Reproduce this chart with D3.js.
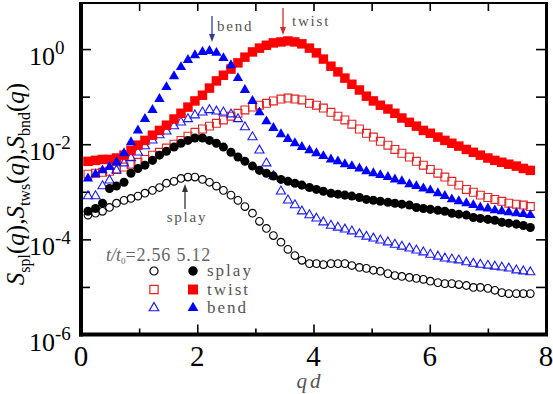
<!DOCTYPE html>
<html>
<head>
<meta charset="utf-8">
<script src="https://cdn.jsdelivr.net/npm/d3@7"></script>
<style>
  body { margin: 0; background: #fff; }
  svg { display: block; }
</style>
</head>
<body>
<script>
var width = 553,
    height = 394;

// wavenumber qd, same grid for every series
var qd = [0.12,0.25,0.37,0.49,0.61,0.74,0.86,0.98,1.10,1.23,1.35,1.47,1.60,1.72,1.84,1.96,
  2.09,2.21,2.33,2.45,2.58,2.70,2.82,2.95,3.07,3.19,3.31,3.44,3.56,3.68,3.80,3.93,
  4.05,4.17,4.30,4.42,4.54,4.66,4.79,4.91,5.03,5.15,5.28,5.40,5.52,5.65,5.77,5.89,
  6.01,6.14,6.26,6.38,6.50,6.63,6.75,6.87,7.00,7.12,7.24,7.36,7.49,7.61,7.73];

// log10 of S(q)
var splay256 = [-3.49,-3.45,-3.41,-3.33,-3.24,-3.18,-3.14,-3.09,-3.03,-2.97,-2.91,-2.82,-2.78,-2.72,-2.69,-2.69,
  -2.74,-2.80,-2.88,-2.97,-3.07,-3.18,-3.31,-3.45,-3.62,-3.77,-3.92,-4.06,-4.21,-4.34,-4.44,-4.51,
  -4.51,-4.53,-4.51,-4.51,-4.51,-4.55,-4.59,-4.61,-4.65,-4.67,-4.72,-4.76,-4.78,-4.80,-4.82,-4.84,
  -4.88,-4.91,-4.93,-4.93,-4.95,-4.97,-5.01,-5.01,-5.03,-5.07,-5.12,-5.14,-5.14,-5.14,-5.14];
var splay512 = [-3.41,-3.35,-3.24,-2.93,-2.88,-2.80,-2.61,-2.51,-2.44,-2.34,-2.23,-2.15,-2.06,-1.98,-1.92,-1.87,
  -1.87,-1.92,-1.98,-2.06,-2.17,-2.27,-2.36,-2.46,-2.55,-2.61,-2.67,-2.74,-2.78,-2.82,-2.86,-2.91,
  -2.95,-2.99,-3.03,-3.05,-3.07,-3.09,-3.12,-3.16,-3.18,-3.20,-3.22,-3.24,-3.26,-3.28,-3.33,-3.35,
  -3.37,-3.39,-3.41,-3.45,-3.47,-3.49,-3.54,-3.56,-3.58,-3.60,-3.64,-3.66,-3.68,-3.71,-3.75];
var twist256 = [-2.63,-2.61,-2.59,-2.57,-2.53,-2.48,-2.42,-2.38,-2.32,-2.23,-2.17,-2.08,-2.00,-1.92,-1.83,-1.75,
  -1.68,-1.62,-1.56,-1.49,-1.41,-1.35,-1.28,-1.22,-1.18,-1.14,-1.09,-1.05,-1.03,-1.05,-1.07,-1.14,
  -1.18,-1.24,-1.33,-1.41,-1.49,-1.58,-1.68,-1.77,-1.85,-1.94,-2.02,-2.11,-2.19,-2.27,-2.36,-2.44,
  -2.53,-2.61,-2.69,-2.78,-2.86,-2.95,-3.01,-3.07,-3.12,-3.16,-3.20,-3.24,-3.26,-3.28,-3.31];
var twist512 = [-2.36,-2.34,-2.32,-2.32,-2.29,-2.23,-2.13,-2.02,-1.92,-1.81,-1.71,-1.60,-1.47,-1.35,-1.22,-1.09,
  -0.97,-0.82,-0.67,-0.55,-0.42,-0.29,-0.17,-0.06,0.02,0.08,0.13,0.15,0.17,0.15,0.11,0.02,
  -0.08,-0.21,-0.36,-0.48,-0.61,-0.74,-0.86,-0.99,-1.09,-1.18,-1.26,-1.35,-1.45,-1.54,-1.62,-1.71,
  -1.77,-1.85,-1.92,-1.98,-2.04,-2.11,-2.17,-2.23,-2.29,-2.34,-2.38,-2.42,-2.46,-2.51,-2.55];
var bend256 = [-3.09,-3.09,-2.88,-2.76,-2.55,-2.40,-2.29,-2.17,-2.04,-1.92,-1.81,-1.73,-1.62,-1.54,-1.47,-1.39,
  -1.33,-1.28,-1.31,-1.33,-1.37,-1.47,-1.64,-1.85,-2.13,-2.40,-2.67,-2.99,-3.18,-3.28,-3.41,-3.49,
  -3.56,-3.64,-3.71,-3.75,-3.79,-3.83,-3.89,-3.94,-3.98,-4.02,-4.06,-4.11,-4.15,-4.19,-4.23,-4.27,
  -4.32,-4.36,-4.40,-4.42,-4.44,-4.48,-4.51,-4.53,-4.55,-4.57,-4.59,-4.61,-4.65,-4.67,-4.69];
var bend512 = [-2.72,-2.63,-2.55,-2.48,-2.38,-2.19,-1.96,-1.71,-1.47,-1.28,-1.05,-0.80,-0.57,-0.38,-0.23,-0.13,
  -0.06,-0.04,-0.08,-0.19,-0.34,-0.61,-0.86,-1.09,-1.33,-1.52,-1.66,-1.79,-1.89,-1.98,-2.06,-2.13,
  -2.19,-2.25,-2.32,-2.36,-2.42,-2.46,-2.51,-2.57,-2.61,-2.65,-2.69,-2.74,-2.78,-2.84,-2.88,-2.93,
  -2.97,-3.03,-3.09,-3.16,-3.20,-3.24,-3.28,-3.33,-3.35,-3.39,-3.41,-3.43,-3.45,-3.47,-3.49];

var xTicks = [0, 2, 4, 6, 8],
    xMinor = [1, 3, 5, 7];
var yTicks = [1e-6, 1e-4, 1e-2, 1e0],
    yMinor = [1e-5, 1e-3, 1e-1];
var yExp = ["-6", "-4", "-2", "0"];
var legendNames = ["splay", "twist", "bend"];

var serif = '"Liberation Serif"';

var svg = d3.select("body").append("svg")
    .attr("width", width)
    .attr("height", height);

var x = d3.scaleLinear()
    .domain([0, 8])
    .range([81, 546]);

var y = d3.scaleLog()
    .domain([1e-6, 10])
    .range([334.5, 1.5]);

// ---- ticks (inward, all four sides)
function tickAxis(axis, vals, size, tr) {
  var g = svg.append("g")
      .attr("transform", tr)
      .call(axis.tickValues(vals).tickSize(size).tickFormat(""));
  g.select(".domain").remove();
  g.selectAll(".tick line").attr("stroke", "#000").attr("stroke-width", 1.6);
}
tickAxis(d3.axisBottom(x), xTicks, -10, "translate(0,334.5)");
tickAxis(d3.axisBottom(x), xMinor, -6, "translate(0,334.5)");
tickAxis(d3.axisTop(x), xTicks.concat(xMinor), -8, "translate(0,3)");
tickAxis(d3.axisLeft(y), yTicks, -10, "translate(81,0)");
tickAxis(d3.axisLeft(y), yMinor, -9, "translate(81,0)");
tickAxis(d3.axisRight(y), yTicks.concat(yMinor), -10, "translate(546,0)");

// ---- frame
svg.append("line").attr("x1", 79).attr("x2", 547.5).attr("y1", 3).attr("y2", 3)
    .attr("stroke", "#000").attr("stroke-width", 2);
svg.append("line").attr("x1", 546.5).attr("x2", 546.5).attr("y1", 2).attr("y2", 336)
    .attr("stroke", "#000").attr("stroke-width", 3);
svg.append("line").attr("x1", 81).attr("x2", 81).attr("y1", 2).attr("y2", 336.5)
    .attr("stroke", "#000").attr("stroke-width", 4);
svg.append("line").attr("x1", 79).attr("x2", 548).attr("y1", 334.5).attr("y2", 334.5)
    .attr("stroke", "#000").attr("stroke-width", 4);

// ---- tick labels
svg.append("g").selectAll("text")
  .data(xTicks).join("text")
    .attr("x", d => x(d))
    .attr("y", 366)
    .attr("text-anchor", "middle")
    .style("font-family", serif)
    .attr("font-size", 29)
    .text(d => d);

var yl = svg.append("g").selectAll("text")
  .data(yTicks).join("text")
    .attr("x", 29)
    .attr("y", d => y(d) + 16)
    .style("font-family", serif)
    .attr("font-size", 26);
yl.append("tspan").text("10");
yl.append("tspan")
    .attr("dy", -11)
    .attr("font-size", 19)
    .text((d, i) => yExp[i]);

// ---- axis titles
svg.append("text")
    .attr("x", 310)
    .attr("y", 388)
    .attr("text-anchor", "middle")
    .style("font-family", serif)
    .attr("font-size", 21)
    .attr("font-style", "italic")
    .attr("letter-spacing", 3)
    .attr("fill", "#555")
    .text("qd");

var yt = svg.append("text")
    .attr("transform", "translate(24,184) rotate(-90)")
    .attr("text-anchor", "middle")
    .style("font-family", serif)
    .attr("font-size", 25);
[["spl", ","], ["tws", ","], ["bnd", ""]].forEach(function(p) {
  yt.append("tspan").attr("font-style", "italic").text("S");
  yt.append("tspan").attr("font-size", 16).attr("dy", 6).text(p[0]);
  yt.append("tspan").attr("dy", -6).text("(");
  yt.append("tspan").attr("font-style", "italic").text("q");
  yt.append("tspan").text(")" + p[1]);
});

// ---- data series
function drawSeries(vals, shape, size, fill, stroke) {
  svg.append("g").selectAll("path")
    .data(qd.map((q, i) => ({q: q, v: Math.pow(10, vals[i])})))
    .join("path")
      .attr("transform", d => `translate(${x(d.q)},${y(d.v)})`)
      .attr("d", d3.symbol(shape, size))
      .attr("fill", fill)
      .attr("stroke", stroke)
      .attr("stroke-width", stroke == "none" ? 0 : 1.1);
}

var styles = {
  splay256: [d3.symbolCircle, 46, "none", "#000"],
  splay512: [d3.symbolCircle, 64, "#000", "none"],
  twist256: [d3.symbolSquare, 62, "none", "#e02424"],
  twist512: [d3.symbolSquare, 90, "#ff0000", "none"],
  bend256: [d3.symbolTriangle, 36, "none", "#1a1aee"],
  bend512: [d3.symbolTriangle, 46, "#0000ff", "none"]
};

drawSeries(twist256, ...styles.twist256);
drawSeries(bend256, ...styles.bend256);
drawSeries(splay256, ...styles.splay256);
drawSeries(twist512, ...styles.twist512);
drawSeries(bend512, ...styles.bend512);
drawSeries(splay512, ...styles.splay512);

// ---- peak annotations
function arrow(xp, y1, y2, color) {
  var dir = y2 > y1 ? 1 : -1;
  svg.append("line")
      .attr("x1", xp).attr("x2", xp)
      .attr("y1", y1).attr("y2", y2 - dir * 6)
      .attr("stroke", color).attr("stroke-width", 1.3);
  svg.append("path")
      .attr("d", `M${xp - 3},${y2 - dir * 8}L${xp + 3},${y2 - dir * 8}L${xp},${y2}Z`)
      .attr("fill", color);
}
arrow(212, 16, 42, "#2f3f8f");
arrow(283, 8, 35, "#d42a2a");
arrow(185, 209, 184, "#333");

function note(tx, ty, str, anchor) {
  svg.append("text")
      .attr("x", tx).attr("y", ty)
      .attr("text-anchor", anchor)
      .style("font-family", serif)
      .attr("font-size", 15)
      .attr("letter-spacing", 1.8)
      .attr("fill", "#555")
      .text(str);
}
note(217, 31, "bend", "start");
note(292, 26, "twist", "start");
note(187, 222, "splay", "middle");

// ---- legend
var lg = svg.append("text")
    .attr("x", 106)
    .attr("y", 261)
    .style("font-family", serif)
    .attr("font-size", 18)
    .attr("fill", "#666");
lg.append("tspan").attr("font-style", "italic").text("t/t");
lg.append("tspan").attr("font-size", 9).attr("dy", 3).text("0");
lg.append("tspan").attr("dy", -3).attr("letter-spacing", 0.8).text("=2.56  5.12");

var legendRows = [
  [styles.splay256, styles.splay512],
  [styles.twist256, styles.twist512],
  [styles.bend256, styles.bend512]
];
legendRows.forEach(function(row, i) {
  var ly = 271 + i * 18.5;
  row.forEach(function(s, j) {
    svg.append("path")
        .attr("transform", `translate(${j ? 193 : 154},${ly})`)
        .attr("d", d3.symbol(s[0], s[1] * 1.1))
        .attr("fill", s[2])
        .attr("stroke", s[3])
        .attr("stroke-width", s[3] == "none" ? 0 : 1.2);
  });
  svg.append("text")
      .attr("x", 207)
      .attr("y", ly + 5)
      .style("font-family", serif)
      .attr("font-size", 17)
      .attr("letter-spacing", 2)
      .attr("fill", "#555")
      .text(legendNames[i]);
});
</script>
</body>
</html>
